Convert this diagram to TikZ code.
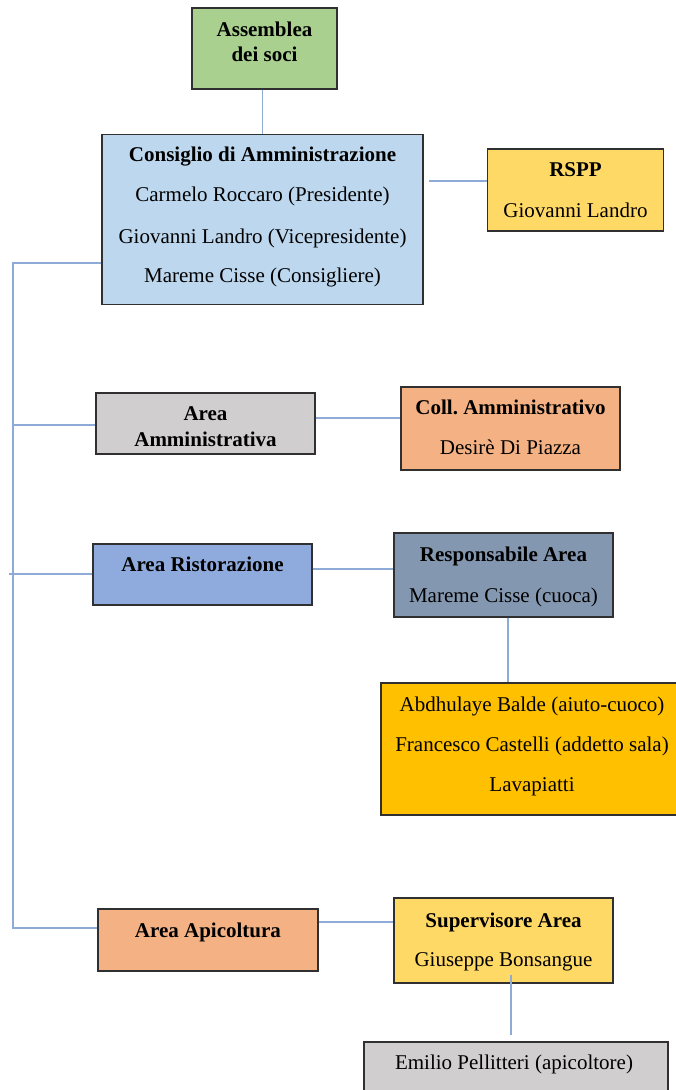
\documentclass[tikz,border=0pt]{standalone}
\usepackage{fontspec}
\setmainfont{Liberation Serif}
\definecolor{cgreen}{HTML}{A9D08E}
\definecolor{clblue}{HTML}{BDD7EE}
\definecolor{cgold}{HTML}{FFD966}
\definecolor{cgray}{HTML}{D0CECE}
\definecolor{corange}{HTML}{F4B183}
\definecolor{cblue}{HTML}{8FAADC}
\definecolor{cslate}{HTML}{8497B0}
\definecolor{camber}{HTML}{FFC000}
\definecolor{clink}{HTML}{8EAAD6}
\definecolor{cborder}{HTML}{303030}
\frenchspacing
\begin{document}
\begin{tikzpicture}[x=1pt,y=-1pt,
  box/.style={draw=cborder, line width=1.3pt, rectangle, inner sep=0pt},
  txt/.style={font=\fontsize{21}{25}\selectfont, anchor=base, inner sep=0pt},
  btxt/.style={font=\fontsize{21}{25}\selectfont\bfseries, anchor=base, inner sep=0pt},
  link/.style={draw=clink, line width=1.5pt}]
\useasboundingbox (0,0) rectangle (675,1090);
\fill[white] (0,0) rectangle (675,1090);

% boxes
\node[box, fill=cgreen, minimum width=145pt, minimum height=81pt] (ass) at (264.5,48.5) {};
\node[box, fill=clblue, minimum width=321pt, minimum height=170pt] (cons) at (262.5,219.5) {};
\node[box, fill=cgold, minimum width=176pt, minimum height=82pt] (rspp) at (575.5,190) {};
\node[box, fill=cgray, minimum width=219pt, minimum height=61pt] (aamm) at (205.5,423.5) {};
\node[box, fill=corange, minimum width=219pt, minimum height=83pt] (coll) at (510.5,428.5) {};
\node[box, fill=cblue, minimum width=219pt, minimum height=61pt] (rist) at (202.5,574.5) {};
\node[box, fill=cslate, minimum width=219pt, minimum height=84pt] (resp) at (503.5,575) {};
\node[box, fill=camber, minimum width=296pt, minimum height=132pt] (staff) at (529,749) {};
\node[box, fill=corange, minimum width=220pt, minimum height=62pt] (api) at (208,940) {};
\node[box, fill=cgold, minimum width=219pt, minimum height=85pt] (sup) at (503.5,940.5) {};
\node[box, fill=cgray, minimum width=304pt, minimum height=70pt] (emi) at (516,1077) {};

% texts
\node[btxt] (ass1) at (264.5,36) {Assemblea};
\node[btxt] (ass2) at (264.5,61) {dei soci};
\node[btxt] (cons1) at (262.5,161) {Consiglio di Amministrazione};
\node[txt] (cons2) at (262.5,201) {Carmelo Roccaro (Presidente)};
\node[txt] (cons3) at (262.5,243) {Giovanni Landro (Vicepresidente)};
\node[txt] (cons4) at (262.5,282) {Mareme Cisse (Consigliere)};
\node[btxt] (rspp1) at (575.5,176) {RSPP};
\node[txt] (rspp2) at (575.5,217) {Giovanni Landro};
\node[btxt] (aamm1) at (205.5,420) {Area};
\node[btxt] (aamm2) at (205.5,446) {Amministrativa};
\node[btxt] (coll1) at (510.5,414) {Coll.\ Amministrativo};
\node[txt] (coll2) at (510.5,454) {Desirè Di Piazza};
\node[btxt] (rist1) at (202.5,571) {Area Ristorazione};
\node[btxt] (resp1) at (503.5,561) {Responsabile Area};
\node[txt] (resp2) at (503.5,602) {Mareme Cisse (cuoca)};
\node[txt] (staff1) at (532,711) {Abdhulaye Balde (aiuto-cuoco)};
\node[txt] (staff2) at (532,751) {Francesco Castelli (addetto sala)};
\node[txt] (staff3) at (532,791) {Lavapiatti};
\node[btxt] (api1) at (208,937) {Area Apicoltura};
\node[btxt] (sup1) at (503.5,927) {Supervisore Area};
\node[txt] (sup2) at (503.5,966) {Giuseppe Bonsangue};
\node[txt] (emi1) at (514,1069) {Emilio Pellitteri (apicoltore)};

% spine coordinates
\coordinate (s1) at (13,263);
\coordinate (s2) at (13,425);
\coordinate (s3) at (9,574);
\coordinate (s4) at (13,928);

% connectors
\draw[link] (ass.south -| cons.north) -- (cons.north);
\draw[link, shorten <=5pt] (cons.east |- 0,181) -- (rspp.west |- 0,181);
\draw[link] (cons.west |- s1) -- (s1) -- (s4) -- (api.west |- s4);
\draw[link] (s2) -- (aamm.west |- s2);
\draw[link] (s3) -- (rist.west |- s3);
\draw[link] (aamm.east |- 0,418) -- (coll.west |- 0,418);
\draw[link] (rist.east |- 0,569) -- (resp.west |- 0,569);
\draw[link] (resp.south -| 508,0) -- (staff.north -| 508,0);
\draw[link] (api.east |- 0,922) -- (sup.west |- 0,922);
\draw[link, shorten >=6pt] (511,975) -- (emi.north -| 511,0);
\end{tikzpicture}
\end{document}
